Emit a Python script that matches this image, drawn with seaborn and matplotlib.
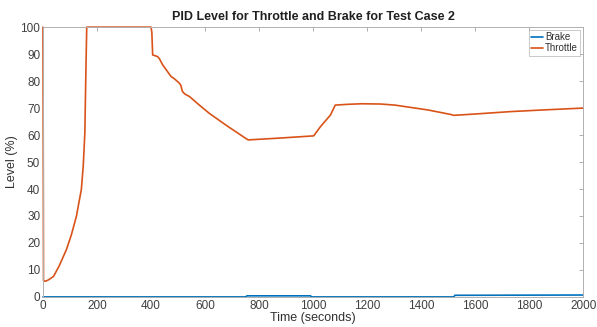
import matplotlib
matplotlib.use("Agg")
import matplotlib.pyplot as plt
import seaborn as sns
import pandas as pd

# Data
throttle_time = [0, 2, 9, 20, 39, 60, 87, 105, 124, 133, 142, 149, 155, 157, 160, 162,
                 400, 403, 406, 424, 431, 443, 449, 474, 486, 504, 510, 516, 525,
                 542, 580, 615, 680, 750, 760, 880, 1002, 1027, 1064, 1082, 1130,
                 1180, 1250, 1303, 1425, 1511, 1520, 1600, 1732, 1850, 2000]
throttle_level = [100, 6, 5.8, 6.3, 7.6, 11.5, 17.6, 23, 30, 35, 39.8, 48.5, 60.8, 73, 90, 100,
                  100, 98, 89.7, 89.1, 88.3, 86, 85.2, 81.7, 80.9, 79.3, 78.5, 76.2, 75.2,
                  74.3, 71, 68.1, 63.5, 58.8, 58.2, 58.9, 59.7, 63.1, 67.4, 71.1, 71.4,
                  71.6, 71.5, 71.1, 69.3, 67.6, 67.3, 67.8, 68.7, 69.3, 70.0]
brake_time = [0, 750, 755, 990, 995, 1520, 1525, 2000]
brake_level = [0, 0, 0.4, 0.4, 0, 0, 0.6, 0.7]

x_ticks = list(range(0, 2001, 200))
y_ticks = list(range(0, 101, 10))

df = pd.concat([
    pd.DataFrame({"Time": brake_time, "Level": brake_level, "Signal": "Brake"}),
    pd.DataFrame({"Time": throttle_time, "Level": throttle_level, "Signal": "Throttle"}),
], ignore_index=True)

sns.set_style("white")
plt.rcParams['font.family'] = ['Liberation Sans', 'DejaVu Sans']

fig = plt.figure(figsize=(5.97, 3.27), dpi=100)
ax = fig.add_axes([0.072, 0.092, 0.905, 0.825])

palette = {"Brake": "#0072BD", "Throttle": "#D95319"}
sns.lineplot(data=df, x="Time", y="Level", hue="Signal", palette=palette,
             linewidth=1.2, ax=ax, estimator=None, sort=False)
for ln in ax.get_lines():
    ln.set_clip_on(False)

ax.set_xlim(0, 2000)
ax.set_ylim(0, 100)
ax.set_xticks(x_ticks)
ax.set_yticks(y_ticks)
ax.tick_params(axis='both', direction='in', length=3, width=0.6, colors='#a0a0a0',
               labelcolor='#404040', labelsize=8.5, top=True, right=True, pad=2)
for s in ax.spines.values():
    s.set_color('#b0b0b0')
    s.set_linewidth(0.7)

ax.set_xlabel("Time (seconds)", fontsize=9, color='#303030', labelpad=0)
ax.set_ylabel("Level (%)", fontsize=9, color='#303030', labelpad=2)
ax.set_title("PID Level for Throttle and Brake for Test Case 2", fontsize=9,
             fontweight='bold', color='#202020', pad=5)

leg = ax.legend(loc='upper right', fontsize=7, handlelength=1.2, handletextpad=0.2,
                borderpad=0.25, labelspacing=0.1, frameon=True, fancybox=False,
                borderaxespad=0.3)
leg.get_frame().set_edgecolor('#b0b0b0')
leg.get_frame().set_linewidth(0.6)
for t in leg.get_texts():
    t.set_color('#303030')

fig.savefig("out.png", dpi=100)
